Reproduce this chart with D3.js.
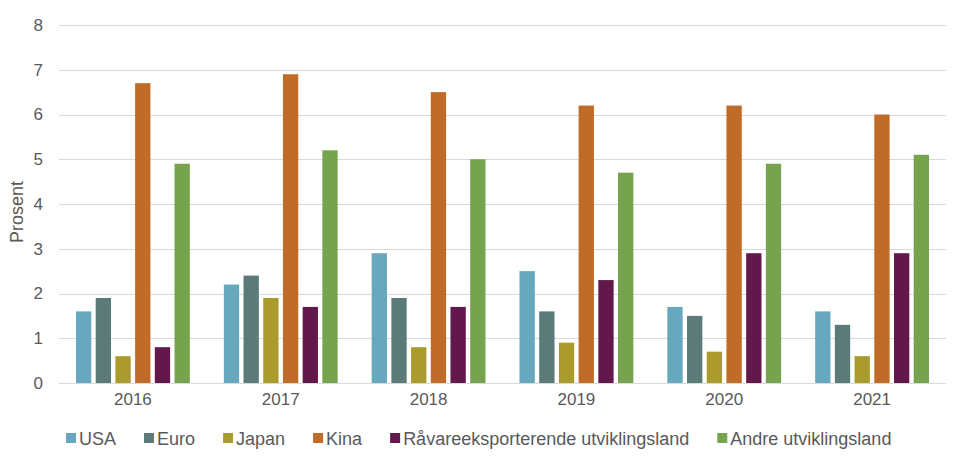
<!DOCTYPE html>
<html><head><meta charset="utf-8">
<script src="https://cdn.jsdelivr.net/npm/d3@7"></script>
<style>body{margin:0;background:#fff;} text{font-family:"Liberation Sans",Arial,sans-serif;}</style>
</head><body>
<svg id="c" width="953" height="461"></svg>
<script>
const years = ["2016","2017","2018","2019","2020","2021"];
const seriesNames = ["USA","Euro","Japan","Kina","Råvareeksporterende utviklingsland","Andre utviklingsland"];
const seriesColors = ["#67a8bf","#5a7b78","#ab9a2c","#bf6c28","#62184a","#76a34e"];
const usa   = [1.6, 2.2, 2.9, 2.5, 1.7, 1.6];
const euro  = [1.9, 2.4, 1.9, 1.6, 1.5, 1.3];
const japan = [0.6, 1.9, 0.8, 0.9, 0.7, 0.6];
const kina  = [6.7, 6.9, 6.5, 6.2, 6.2, 6.0];
const raava = [0.8, 1.7, 1.7, 2.3, 2.9, 2.9];
const andre = [4.9, 5.2, 5.0, 4.7, 4.9, 5.1];
const yTicks = [0,1,2,3,4,5,6,7,8];
const yLabel = "Prosent";

const seriesValues = [usa, euro, japan, kina, raava, andre];
const svg = d3.select("#c");
const m = {left:59, right:946, top:25, bottom:383};
const x0 = d3.scaleBand().domain(years).range([m.left, m.right]).paddingInner(0.23).paddingOuter(0.115);
const x1 = d3.scaleBand().domain(seriesNames).range([0, x0.bandwidth()]).paddingInner(0.223).paddingOuter(0);
const y = d3.scaleLinear().domain([0,8]).range([m.bottom, m.top]);

// gridlines
svg.append("g").selectAll("line").data(yTicks.filter(d=>d>0)).join("line")
  .attr("x1", m.left).attr("x2", m.right)
  .attr("y1", d=>Math.round(y(d))+0.5).attr("y2", d=>Math.round(y(d))+0.5)
  .attr("stroke","#d9d9d9").attr("stroke-width",1);

// y tick labels
const yAxis = d3.axisLeft(y).tickValues(yTicks).tickSize(0).tickPadding(0).tickFormat(d3.format("d"));
const ya = svg.append("g").attr("transform",`translate(${m.left-16},0)`).call(yAxis);
ya.select(".domain").remove();
ya.selectAll("text").attr("font-size",17).attr("fill","#595959").attr("font-family","Liberation Sans, Arial, sans-serif");

// bars
const groups = svg.append("g").selectAll("g").data(years).join("g")
  .attr("transform", d=>`translate(${x0(d)},0)`);
groups.selectAll("rect").data((yr,i)=>seriesNames.map((s,j)=>({s, v:seriesValues[j][i], c:seriesColors[j]})))
  .join("rect")
  .attr("x", d=>x1(d.s)).attr("width", x1.bandwidth())
  .attr("y", d=>y(d.v)).attr("height", d=>y(0)-y(d.v))
  .attr("fill", d=>d.c);

// x axis
const xAxis = d3.axisBottom(x0).tickSize(0).tickPadding(10);
const xa = svg.append("g").attr("transform",`translate(0,${m.bottom})`).call(xAxis);
xa.select(".domain").attr("stroke","#d9d9d9").attr("d",`M${m.left},0.5H${m.right}`);
xa.selectAll("text").attr("font-size",17).attr("fill","#595959").attr("font-family","Liberation Sans, Arial, sans-serif");

// y label
svg.append("text").attr("transform",`translate(23,212) rotate(-90)`)
  .attr("text-anchor","middle").attr("font-size",18).attr("fill","#595959").text(yLabel);

// legend
const lg = svg.append("g").attr("transform","translate(66,438)");
let lx = 0;
seriesNames.forEach((s,i)=>{
  const g = lg.append("g").attr("transform",`translate(${lx},0)`);
  g.append("rect").attr("x",0).attr("y",-5).attr("width",10).attr("height",10).attr("fill",seriesColors[i]);
  const t = g.append("text").attr("x",13).attr("y",6.5).attr("font-size",18).attr("fill","#595959").text(s);
  lx += 13 + t.node().getComputedTextLength() + 28;
});
</script>
</body></html>
